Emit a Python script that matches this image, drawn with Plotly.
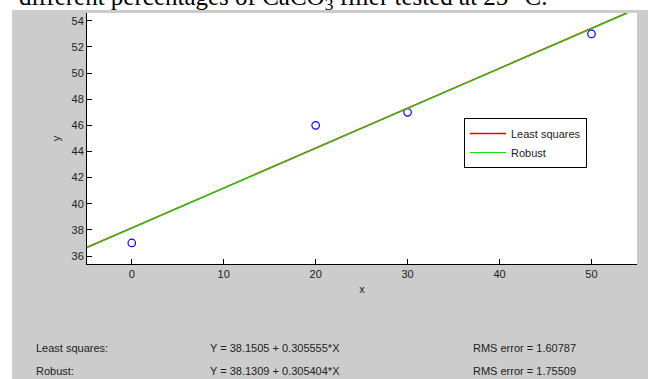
import plotly.graph_objects as go

# ---- data ----
x_data = [0, 20, 30, 50]
y_data = [37, 46, 47, 53]

fit_x = [-5, 53.9]
ls_intercept, ls_slope = 38.1505, 0.305555
rb_intercept, rb_slope = 38.1309, 0.305404

x_ticks = [0, 10, 20, 30, 40, 50]
y_ticks = [36, 38, 40, 42, 44, 46, 48, 50, 52, 54]

ls_y = [ls_intercept + ls_slope * v for v in fit_x]
rb_y = [rb_intercept + rb_slope * v for v in fit_x]

W, H = 648, 379
L, R, T, B = 87, 11, 13, 115
pw, ph = W - L - R, H - T - B


def px(xp):
    return (xp - L) / pw


def py(yp):
    return (H - B - yp) / ph


FONT = "Liberation Sans, Arial, sans-serif"
TXT = "#222222"

fig = go.Figure()
fig.add_trace(go.Scatter(x=x_data, y=y_data, mode="markers", showlegend=False,
                         marker=dict(symbol="circle-open", size=7.5, color="#0000ff",
                                     line=dict(width=1.2, color="#0000ff")),
                         cliponaxis=False))
fig.add_trace(go.Scatter(x=fit_x, y=ls_y, mode="lines", name="Least squares",
                         line=dict(color="#ee0000", width=1.5)))
fig.add_trace(go.Scatter(x=fit_x, y=rb_y, mode="lines", name="Robust",
                         line=dict(color="#11e011", width=1.2)))

shapes = [
    # white strip at top (caption area)
    dict(type="rect", xref="paper", yref="paper", x0=px(0), x1=px(W), y0=py(10), y1=py(0),
         fillcolor="white", line=dict(width=0), layer="below"),
    # white strip at left
    dict(type="rect", xref="paper", yref="paper", x0=px(0), x1=px(12), y0=py(H), y1=py(0),
         fillcolor="white", line=dict(width=0), layer="below"),
]

annotations = [
    dict(text="different percentages of CaCO<sub>3</sub> filler tested at 25 °C.",
         xref="paper", yref="paper", x=px(17), y=py(16), xanchor="left", yanchor="bottom",
         showarrow=False, font=dict(family="Liberation Serif, Times New Roman, serif",
                                    size=25, color="black")),
]

rows = [
    ("Least squares:", f"Y = {ls_intercept} + {ls_slope}*X", "RMS error = 1.60787", 348),
    ("Robust:", f"Y = {rb_intercept} + {rb_slope}*X", "RMS error = 1.75509", 371),
]
for name, eq, rms, yy in rows:
    for txt, xx in ((name, 34), (eq, 208), (rms, 471)):
        annotations.append(dict(text=txt, xref="paper", yref="paper", x=px(xx), y=py(yy),
                                xanchor="left", yanchor="middle", showarrow=False,
                                font=dict(family=FONT, size=11, color=TXT)))

fig.update_layout(
    width=W, height=H,
    margin=dict(l=L, r=R, t=T, b=B, pad=0),
    paper_bgcolor="#cccccc",
    plot_bgcolor="white",
    font=dict(family=FONT, size=11, color=TXT),
    shapes=shapes,
    annotations=annotations,
    legend=dict(x=px(464), y=py(118), xanchor="left", yanchor="top",
                bgcolor="white", bordercolor="black", borderwidth=1,
                font=dict(family=FONT, size=11, color=TXT),
                itemwidth=36, tracegroupgap=0),
    xaxis=dict(range=[-4.87, 54.95], tickvals=x_ticks, ticks="inside", ticklen=5,
               tickcolor="black", showline=True, linecolor="black", linewidth=1,
               showgrid=False, zeroline=False, mirror=False,
               title=dict(text="x", standoff=6, font=dict(size=11))),
    yaxis=dict(range=[35.39, 54.6], tickvals=y_ticks, ticks="inside", ticklen=5,
               tickcolor="black", showline=True, linecolor="black", linewidth=1,
               showgrid=False, zeroline=False, mirror=False,
               ticklabelstandoff=0,
               title=dict(text="y", standoff=8, font=dict(size=11))),
)

fig.write_html("out.html", config={"displayModeBar": False},
               post_script="document.body.style.margin='0';document.body.style.padding='0';")
